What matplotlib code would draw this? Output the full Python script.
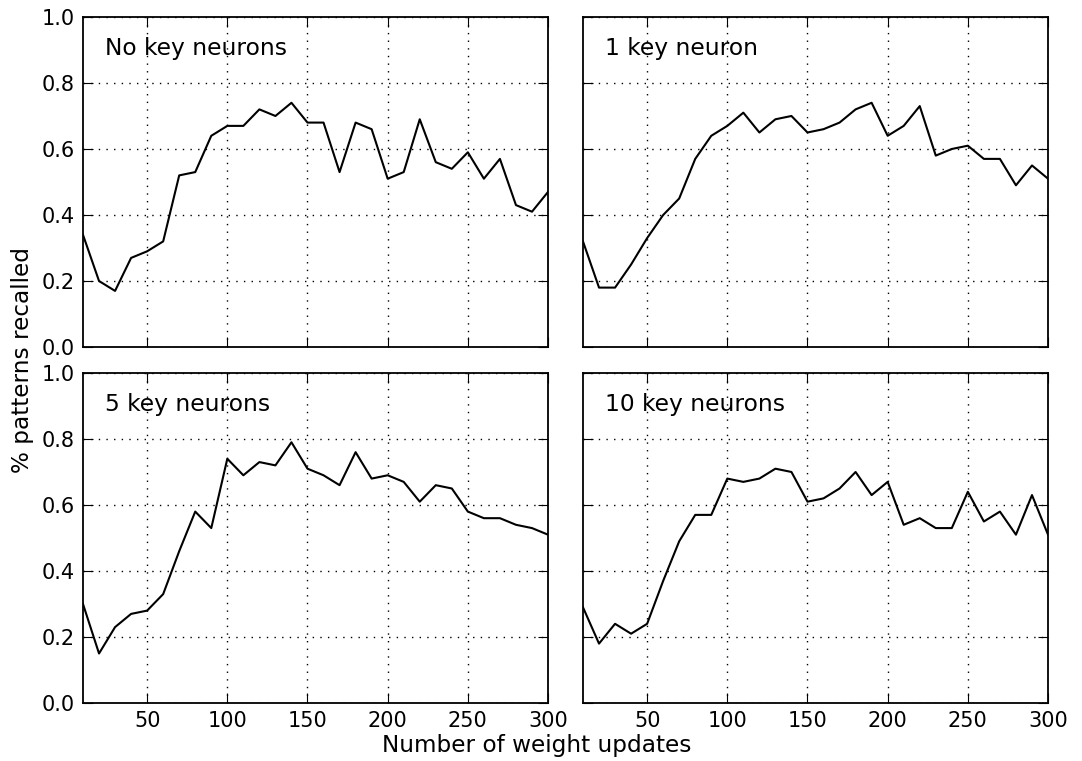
import matplotlib
matplotlib.use("Agg")
import matplotlib.pyplot as plt

# weight updates (x axis)
updates = list(range(10, 301, 10))

no_key = [0.34, 0.20, 0.17, 0.27, 0.29, 0.32, 0.52, 0.53, 0.64, 0.67,
          0.67, 0.72, 0.70, 0.74, 0.68, 0.68, 0.53, 0.68, 0.66, 0.51,
          0.53, 0.69, 0.56, 0.54, 0.59, 0.51, 0.57, 0.43, 0.41, 0.47]
one_key = [0.32, 0.18, 0.18, 0.25, 0.33, 0.40, 0.45, 0.57, 0.64, 0.67,
           0.71, 0.65, 0.69, 0.70, 0.65, 0.66, 0.68, 0.72, 0.74, 0.64,
           0.67, 0.73, 0.58, 0.60, 0.61, 0.57, 0.57, 0.49, 0.55, 0.51]
five_key = [0.30, 0.15, 0.23, 0.27, 0.28, 0.33, 0.46, 0.58, 0.53, 0.74,
            0.69, 0.73, 0.72, 0.79, 0.71, 0.69, 0.66, 0.76, 0.68, 0.69,
            0.67, 0.61, 0.66, 0.65, 0.58, 0.56, 0.56, 0.54, 0.53, 0.51]
ten_key = [0.29, 0.18, 0.24, 0.21, 0.24, 0.37, 0.49, 0.57, 0.57, 0.68,
           0.67, 0.68, 0.71, 0.70, 0.61, 0.62, 0.65, 0.70, 0.63, 0.67,
           0.54, 0.56, 0.53, 0.53, 0.64, 0.55, 0.58, 0.51, 0.63, 0.51]

titles = ["No key neurons", "1 key neuron", "5 key neurons", "10 key neurons"]
series = [no_key, one_key, five_key, ten_key]

fig = plt.figure(figsize=(10.82, 7.61), dpi=100)

# axes rectangles [left, bottom, width, height] in figure fraction
lefts = [0.0767, 0.5388, 0.0767, 0.5388]
bottoms = [0.544, 0.544, 0.0762, 0.0762]
w = 0.4298
h = 0.4337

for i in range(4):
    ax = fig.add_axes([lefts[i], bottoms[i], w, h])
    ax.plot(updates, series[i], color='black', linewidth=1.5)
    ax.set_xlim(10, 300)
    ax.set_ylim(0, 1)
    ax.set_xticks([50, 100, 150, 200, 250, 300])
    ax.set_yticks([0.0, 0.2, 0.4, 0.6, 0.8, 1.0])
    ax.grid(True, color='black', linestyle=(0, (1, 4.5)), linewidth=1)
    ax.tick_params(direction='in', top=True, right=True, length=7,
                   labelsize=15, pad=6)
    for sp in ax.spines.values():
        sp.set_linewidth(1.3)
    if i < 2:
        ax.set_xticklabels([])
    if i % 2 == 1:
        ax.set_yticklabels([])
    ax.text(0.047, 0.905, titles[i], transform=ax.transAxes,
            fontsize=16.8, va='center', ha='left')

fig.text(0.496, 0.02, 'Number of weight updates', ha='center', va='center',
         fontsize=16.7)
fig.text(0.021, 0.527, '% patterns recalled', ha='center', va='center',
         rotation=90, fontsize=16.7)

plt.savefig('out.png', dpi=100)
